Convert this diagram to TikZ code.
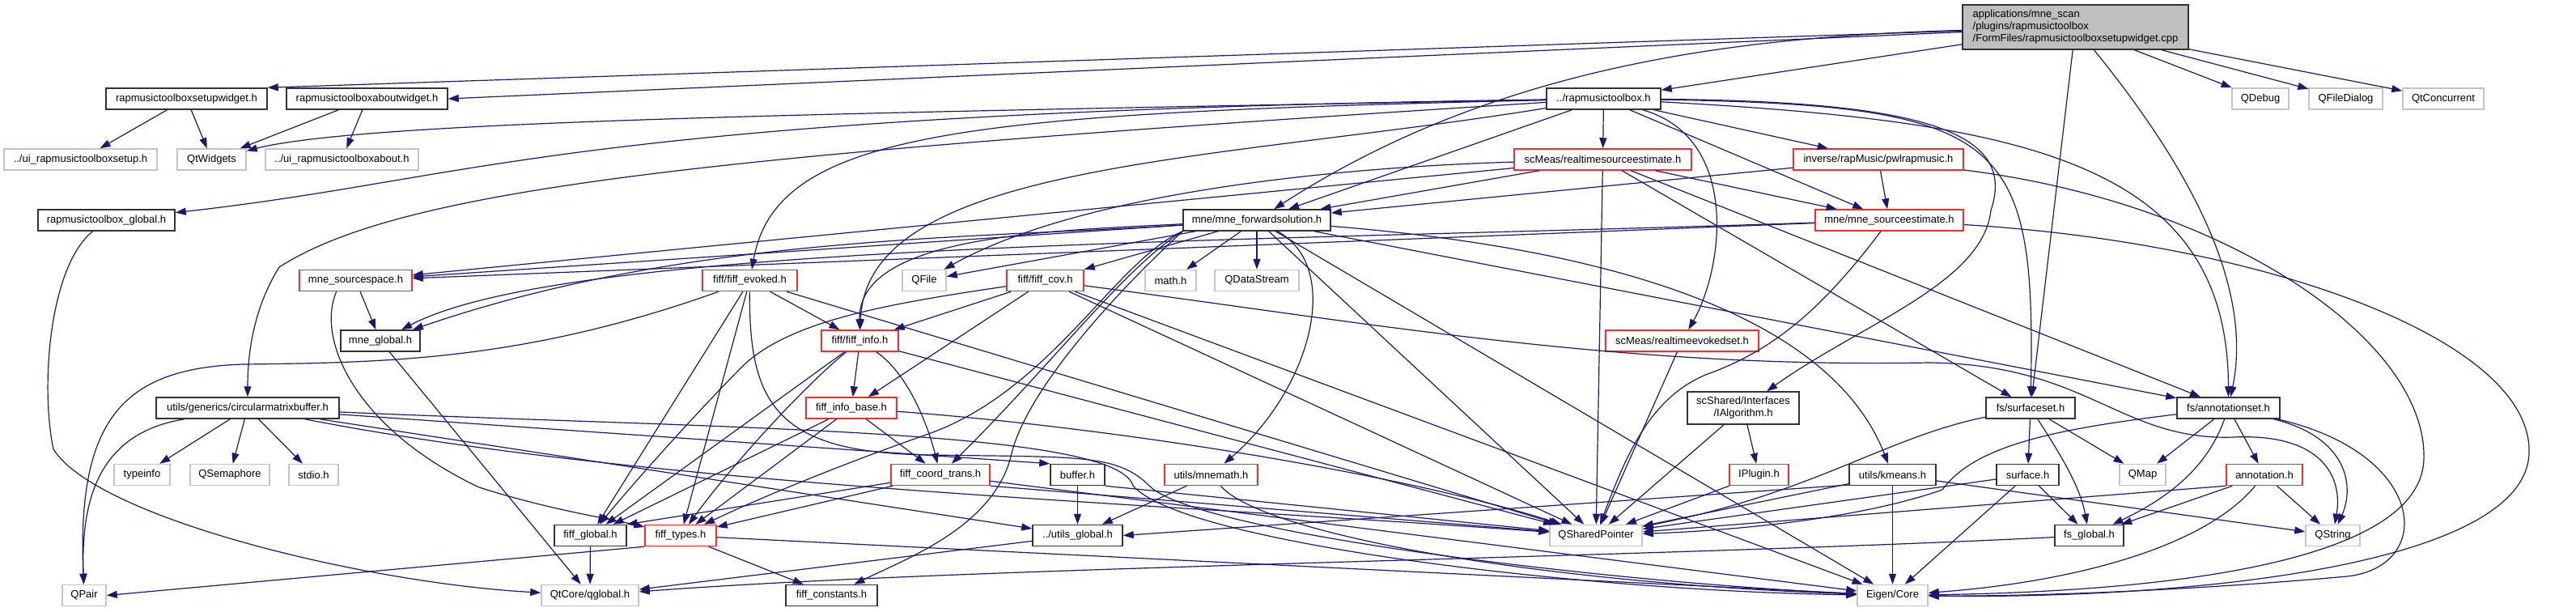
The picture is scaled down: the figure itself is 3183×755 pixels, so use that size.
\documentclass[tikz,border=0pt]{standalone}
\usepackage{fontspec}
\setmainfont{Liberation Sans}
\usetikzlibrary{arrows.meta}
\definecolor{edgec}{HTML}{191970}
\definecolor{redb}{HTML}{FF2A2A}
\definecolor{grayb}{HTML}{C4C4C4}
\definecolor{blkb}{HTML}{333333}
\definecolor{rootf}{HTML}{BFBFBF}
\newcommand{\nodefont}{\fontsize{13}{15}\selectfont}
\begin{document}
\begin{tikzpicture}[x=1pt,y=-1pt,
  box/.style={rectangle, inner sep=0pt, minimum height=26pt, font=\nodefont, line width=1.5pt, align=center},
  blk/.style={box, draw=blkb},
  rdn/.style={box, draw=redb},
  gyn/.style={box, draw=grayb},
  rootn/.style={box, draw=blkb, fill=rootf, align=left},
  dep/.style={draw=edgec, line width=1.2pt, -{Triangle[length=13pt,width=9pt]}}]
\fill[white] (0,0) rectangle (3183,755);
\useasboundingbox (0,0) rectangle (3183,755);
% row 0
\node[rootn, minimum width=279pt, minimum height=55pt] (R) at (2564.5,33.5) {applications/mne\_scan\\/plugins/rapmusictoolbox\\/FormFiles/rapmusictoolboxsetupwidget.cpp};
% row 1
\node[blk, minimum width=199pt] (setupw) at (230.5,122) {rapmusictoolboxsetupwidget.h};
\node[blk, minimum width=199pt] (aboutw) at (453.5,122) {rapmusictoolboxaboutwidget.h};
\node[blk, minimum width=141pt] (rtb) at (1981.5,122) {../rapmusictoolbox.h};
\node[gyn, minimum width=70pt] (qdebug) at (2793,122) {QDebug};
\node[gyn, minimum width=91pt] (qfiledialog) at (2898.5,122) {QFileDialog};
\node[gyn, minimum width=100pt] (qtconc) at (3019,122) {QtConcurrent};
% row 2
\node[gyn, minimum width=189pt] (uisetup) at (99.5,197) {../ui\_rapmusictoolboxsetup.h};
\node[gyn, minimum width=85pt] (qtwidgets) at (261.5,197) {QtWidgets};
\node[gyn, minimum width=189pt] (uiabout) at (422.5,197) {../ui\_rapmusictoolboxabout.h};
\node[rdn, minimum width=219pt] (rtse) at (1980.5,197) {scMeas/realtimesourceestimate.h};
\node[rdn, minimum width=210pt] (pwl) at (2321,197) {inverse/rapMusic/pwlrapmusic.h};
% row 3
\node[blk, minimum width=169pt] (rglobal) at (131.5,272) {rapmusictoolbox\_global.h};
\node[blk, minimum width=182pt] (fwd) at (1553,272) {mne/mne\_forwardsolution.h};
\node[rdn, minimum width=183pt] (srcest) at (2334.5,272) {mne/mne\_sourceestimate.h};
% row 4
\node[rdn, minimum width=139pt] (sspace) at (439.5,346.5) {mne\_sourcespace.h};
\node[rdn, minimum width=117pt] (evoked) at (926.5,346.5) {fiff/fiff\_evoked.h};
\node[gyn, minimum width=54pt] (qfile) at (1142,346.5) {QFile};
\node[rdn, minimum width=95pt] (cov) at (1291.5,346.5) {fiff/fiff\_cov.h};
\node[gyn, minimum width=63pt] (math) at (1446.5,346.5) {math.h};
\node[gyn, minimum width=104pt] (qdatastream) at (1553,346.5) {QDataStream};
% row 5
\node[blk, minimum width=98pt] (mneglobal) at (470,421) {mne\_global.h};
\node[rdn, minimum width=95pt] (fiffinfo) at (1062.5,421) {fiff/fiff\_info.h};
\node[rdn, minimum width=189pt] (rtevoked) at (2078.5,421) {scMeas/realtimeevokedset.h};
% row 6
\node[blk, minimum width=226pt] (cmb) at (306,504) {utils/generics/circularmatrixbuffer.h};
\node[rdn, minimum width=112pt] (infobase) at (1052,504) {fiff\_info\_base.h};
\node[blk, minimum width=138pt, minimum height=40pt] (ialg) at (2154,504) {scShared/Interfaces\\/IAlgorithm.h};
\node[blk, minimum width=110pt] (surfset) at (2509,504) {fs/surfaceset.h};
\node[blk, minimum width=127pt] (annotset) at (2753.5,504) {fs/annotationset.h};
% row 7
\node[gyn, minimum width=69pt] (typeinfo) at (175.5,586.5) {typeinfo};
\node[gyn, minimum width=98pt] (qsemaphore) at (284,586.5) {QSemaphore};
\node[gyn, minimum width=61pt] (stdio) at (387.5,586.5) {stdio.h};
\node[rdn, minimum width=122pt] (coordtrans) at (1162,586.5) {fiff\_coord\_trans.h};
\node[blk, minimum width=67pt] (buffer) at (1331.5,586.5) {buffer.h};
\node[rdn, minimum width=115pt] (mnemath) at (1496.5,586.5) {utils/mnemath.h};
\node[rdn, minimum width=73pt] (iplugin) at (2173.5,586.5) {IPlugin.h};
\node[blk, minimum width=107pt] (kmeans) at (2338.5,586.5) {utils/kmeans.h};
\node[blk, minimum width=77pt] (surface) at (2505.5,586.5) {surface.h};
\node[gyn, minimum width=57pt] (qmap) at (2647.5,586.5) {QMap};
\node[rdn, minimum width=94pt] (annotation) at (2798,586.5) {annotation.h};
% row 8
\node[blk, minimum width=89pt] (fiffglobal) at (729.5,661.5) {fiff\_global.h};
\node[rdn, minimum width=88pt] (types) at (841,661.5) {fiff\_types.h};
\node[blk, minimum width=111pt] (utilsglobal) at (1331.5,661.5) {../utils\_global.h};
\node[gyn, minimum width=114pt] (qsp) at (1972,661.5) {QSharedPointer};
\node[blk, minimum width=85pt] (fsglobal) at (2581.5,661.5) {fs\_global.h};
\node[gyn, minimum width=67pt] (qstring) at (2882.5,661.5) {QString};
% row 9
\node[gyn, minimum width=54pt] (qpair) at (104,735.5) {QPair};
\node[gyn, minimum width=120pt] (qglobal) at (729,735.5) {QtCore/qglobal.h};
\node[blk, minimum width=113pt] (constants) at (1027.5,735.5) {fiff\_constants.h};
\node[gyn, minimum width=87pt] (eigen) at (2338.5,735.5) {Eigen/Core};

% ---- root
\draw[dep] (R) -- (setupw.north east);
\draw[dep] (R) -- (aboutw.east);
\draw[dep] (R) -- (rtb);
\draw[dep] (R) .. controls (2150,45) and (1850,80) .. (fwd);
\draw[dep] (R) -- (surfset);
\draw[dep] (R) .. controls (2700,200) and (2785,350) .. (annotset);
\draw[dep] (R) -- (qdebug);
\draw[dep] (R) -- (qfiledialog);
\draw[dep] (R) -- (qtconc);
% ---- widgets
\draw[dep] (setupw) -- (uisetup);
\draw[dep] (setupw) -- (qtwidgets);
\draw[dep] (aboutw) -- (qtwidgets);
\draw[dep] (aboutw) -- (uiabout);
% ---- rapmusictoolbox.h
\draw[dep] (rtb) .. controls (1000,140) and (450,150) .. (qtwidgets);
\draw[dep] (rtb) .. controls (700,140) and (600,220) .. (rglobal);
\draw[dep] (rtb) .. controls (900,190) and (500,230) .. (345,330) .. controls (320,370) and (306,420) .. (cmb);
\draw[dep] (rtb) .. controls (1200,140) and (960,160) .. (evoked);
\draw[dep] (rtb) -- (rtse);
\draw[dep] (rtb) -- (pwl);
\draw[dep] (rtb) -- (fwd);
\draw[dep] (rtb) -- (srcest);
\draw[dep] (rtb) .. controls (2150,170) and (2130,330) .. (rtevoked);
\draw[dep] (rtb) .. controls (2400,125) and (2490,170) .. (2460,260) .. controls (2450,350) and (2300,400) .. (ialg);
\draw[dep] (rtb) .. controls (2480,130) and (2515,170) .. (surfset);
\draw[dep] (rtb) .. controls (2500,150) and (2753,200) .. (annotset);
\draw[dep] (rtb) .. controls (1500,200) and (1070,200) .. (fiffinfo);
% ---- globals
\draw[dep] (rglobal) .. controls (60,330) and (50,480) .. (66,555) .. controls (120,640) and (450,720) .. (qglobal);
\draw[dep] (mneglobal) -- (qglobal);
\draw[dep] (fiffglobal) -- (qglobal);
\draw[dep] (utilsglobal) -- (qglobal);
\draw[dep] (fsglobal) .. controls (2000,690) and (1200,700) .. (qglobal);
% ---- realtimesourceestimate
\draw[dep] (rtse) -- (fwd);
\draw[dep] (rtse) -- (srcest);
\draw[dep] (rtse) -- (surfset);
\draw[dep] (rtse) -- (annotset);
\draw[dep] (rtse) -- (qsp);
\draw[dep] (rtse) -- (sspace);
\draw[dep] (rtse) .. controls (1700,205) and (1350,230) .. (qfile);
% ---- pwlrapmusic
\draw[dep] (pwl) -- (fwd);
\draw[dep] (pwl) -- (srcest);
\draw[dep] (pwl) .. controls (2750,250) and (3000,420) .. (2995,568) .. controls (2990,690) and (2700,730) .. (eigen);
% ---- sourceestimate
\draw[dep] (srcest) -- (sspace);
\draw[dep] (srcest) .. controls (1500,300) and (700,300) .. (mneglobal);
\draw[dep] (srcest) .. controls (2260,370) and (2200,430) .. (2110,462) .. controls (2040,490) and (2010,560) .. (qsp);
\draw[dep] (srcest) .. controls (2800,300) and (3130,420) .. (3125,560) .. controls (3120,700) and (2700,740) .. (eigen);
% ---- forward solution
\draw[dep] (fwd) -- (sspace);
\draw[dep] (fwd) .. controls (1200,295) and (850,290) .. (mneglobal);
\draw[dep] (fwd) -- (qfile);
\draw[dep] (fwd) -- (cov);
\draw[dep] (fwd) -- (math);
\draw[dep] (fwd) -- (qdatastream);
\draw[dep] (fwd) .. controls (1300,285) and (1060,290) .. (fiffinfo);
\draw[dep] (fwd.south west) .. controls (1380,320) and (1300,480) .. (1150,535) .. controls (1050,570) and (950,610) .. (types);
\draw[dep] (fwd.south west) .. controls (1390,330) and (1300,450) .. (coordtrans);
\draw[dep] (fwd.south west) .. controls (1380,360) and (1270,480) .. (1250,560) .. controls (1230,650) and (1120,690) .. (constants);
\draw[dep] (fwd) .. controls (1660,330) and (1620,480) .. (mnemath);
\draw[dep] (fwd) .. controls (1900,300) and (2250,360) .. (kmeans);
\draw[dep] (fwd) -- (annotset);
\draw[dep] (fwd) -- (qsp);
\draw[dep] (fwd) -- (eigen);
% ---- sourcespace
\draw[dep] (sspace) -- (mneglobal);
\draw[dep] (sspace.-150) .. controls (390,420) and (440,530) .. (592,602) .. controls (680,630) and (750,640) .. (types);
% ---- evoked
\draw[dep] (evoked) -- (fiffinfo);
\draw[dep] (evoked) -- (types);
\draw[dep] (evoked) -- (fiffglobal);
\draw[dep] (evoked) .. controls (650,445) and (480,448) .. (300,450) .. controls (150,455) and (95,520) .. (qpair);
\draw[dep] (evoked) -- (qsp);
\draw[dep] (evoked) .. controls (925,500) and (960,560) .. (1150,562) .. controls (1330,565) and (1380,560) .. (1420,600) .. controls (1480,660) and (2000,720) .. (eigen);
% ---- cov
\draw[dep] (cov) -- (fiffinfo);
\draw[dep] (cov) -- (infobase);
\draw[dep] (cov) .. controls (1100,375) and (980,395) .. (920,450) .. controls (860,510) and (780,600) .. (fiffglobal);
\draw[dep] (cov) -- (qsp);
\draw[dep] (cov) -- (eigen);
\draw[dep] (cov) .. controls (1700,400) and (2000,455) .. (2383,448) .. controls (2580,450) and (2620,545) .. (2760,540) .. controls (2870,535) and (2895,590) .. (qstring);
% ---- fiff info
\draw[dep] (fiffinfo) -- (infobase);
\draw[dep] (fiffinfo) -- (fiffglobal);
\draw[dep] (fiffinfo) .. controls (990,480) and (900,580) .. (types);
\draw[dep] (fiffinfo) .. controls (1120,460) and (1145,520) .. (coordtrans);
\draw[dep] (fiffinfo) -- (qsp);
% ---- info base
\draw[dep] (infobase) -- (fiffglobal);
\draw[dep] (infobase) -- (types);
\draw[dep] (infobase) -- (coordtrans);
\draw[dep] (infobase) .. controls (1400,530) and (1750,590) .. (qsp);
% ---- coord trans
\draw[dep] (coordtrans) -- (fiffglobal.north east);
\draw[dep] (coordtrans) -- (types);
\draw[dep] (coordtrans.south east) -- (qsp);
\draw[dep] (coordtrans) -- (eigen);
% ---- types
\draw[dep] (types) -- (constants);
\draw[dep] (types.south west) -- (qpair.east);
\draw[dep] (types) -- (eigen);
% ---- circular buffer
\draw[dep] (cmb) -- (typeinfo);
\draw[dep] (cmb) -- (qsemaphore);
\draw[dep] (cmb) -- (stdio);
\draw[dep] (cmb.-170) .. controls (120,535) and (100,620) .. (qpair);
\draw[dep] (cmb) -- (buffer.north west);
\draw[dep] (cmb) -- (utilsglobal);
\draw[dep] (cmb) .. controls (800,600) and (1400,620) .. (qsp);
\draw[dep] (cmb) .. controls (900,530) and (1380,530) .. (1400,600) .. controls (1460,670) and (1950,730) .. (eigen);
% ---- utils
\draw[dep] (buffer) -- (utilsglobal);
\draw[dep] (buffer.south east) -- (qsp);
\draw[dep] (mnemath) -- (utilsglobal);
\draw[dep] (mnemath) .. controls (1560,660) and (1900,720) .. (eigen);
\draw[dep] (kmeans.193) -- (utilsglobal.east);
\draw[dep] (kmeans) -- (qsp);
\draw[dep] (kmeans) -- (eigen);
\draw[dep] (kmeans) -- (qstring);
% ---- plugins
\draw[dep] (rtevoked) -- (qsp);
\draw[dep] (ialg) -- (iplugin);
\draw[dep] (ialg) -- (qsp);
\draw[dep] (iplugin) -- (qsp);
% ---- fs
\draw[dep] (surfset) -- (surface);
\draw[dep] (surfset) -- (qmap);
\draw[dep] (surfset) .. controls (2545,560) and (2570,600) .. (fsglobal);
\draw[dep] (surfset) .. controls (2330,540) and (2240,610) .. (qsp);
\draw[dep] (surface) -- (fsglobal);
\draw[dep] (surface) -- (qsp);
\draw[dep] (surface) -- (eigen);
\draw[dep] (annotset) -- (qmap);
\draw[dep] (annotset) .. controls (2730,570) and (2690,610) .. (fsglobal);
\draw[dep] (annotset) -- (annotation);
\draw[dep] (annotset) .. controls (2900,540) and (2910,600) .. (qstring);
\draw[dep] (annotset) .. controls (3000,560) and (3010,700) .. (2900,712) .. controls (2700,730) and (2500,737) .. (eigen);
\draw[dep] (annotset) .. controls (2540,530) and (2440,550) .. (2400,605) .. controls (2300,640) and (2150,655) .. (qsp);
\draw[dep] (annotation) -- (qstring);
\draw[dep] (annotation) -- (fsglobal);
\draw[dep] (annotation) .. controls (2720,680) and (2550,720) .. (eigen);
\draw[dep] (annotation.south west) -- (qsp);
\end{tikzpicture}
\end{document}
